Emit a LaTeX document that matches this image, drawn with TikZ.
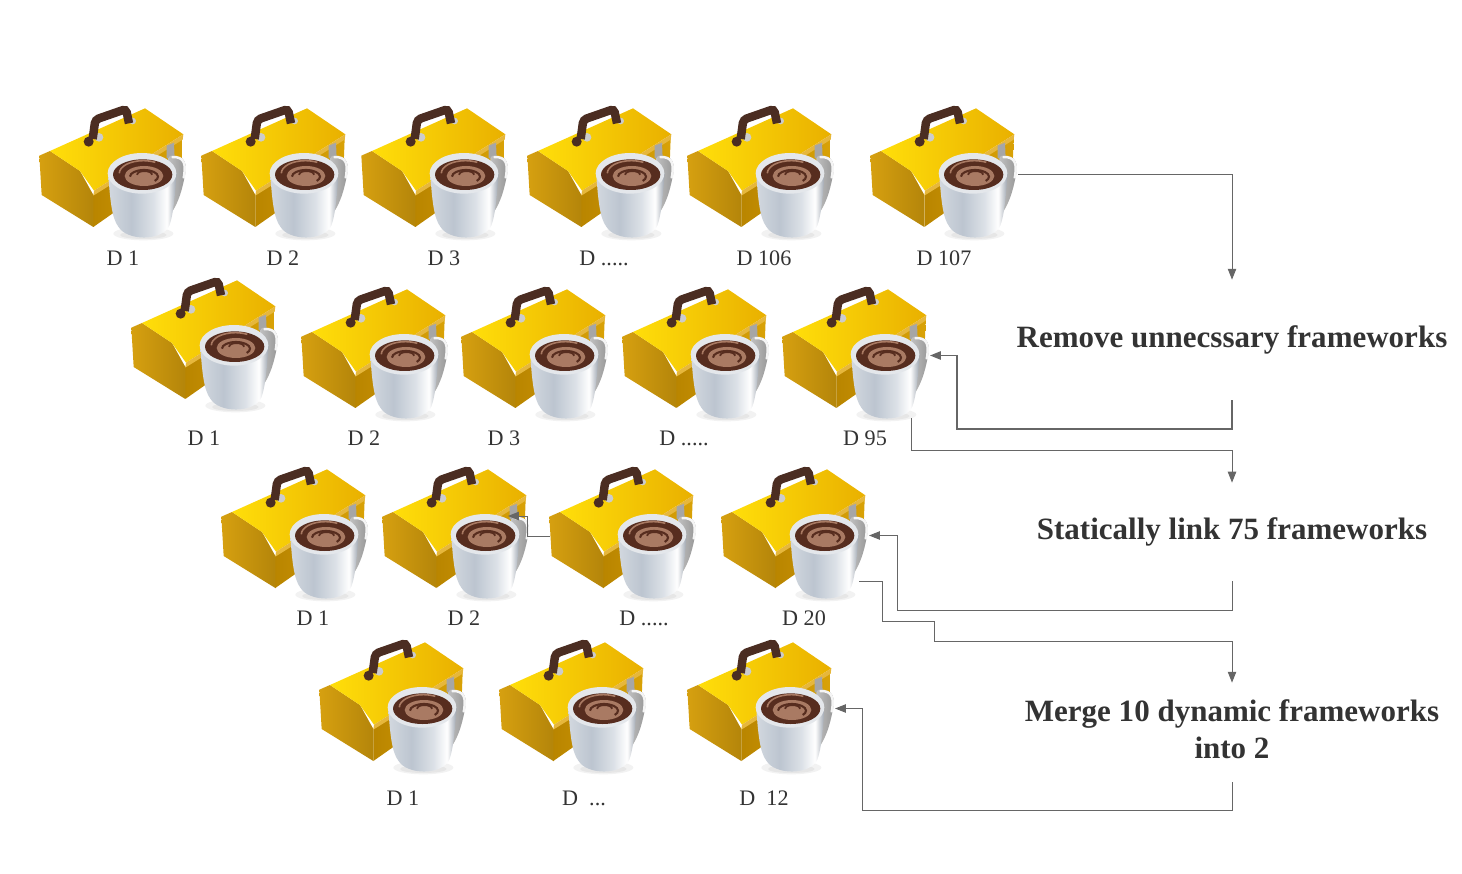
\documentclass[tikz,border=0pt]{standalone}
\usepackage{fontspec}
\setmainfont{Liberation Serif}
\usetikzlibrary{arrows.meta}
\definecolor{linegray}{HTML}{666666}
\definecolor{textgray}{HTML}{333333}
\definecolor{lidhi}{HTML}{FFDE0A}
\definecolor{lidlo}{HTML}{E9B000}
\definecolor{golda}{HTML}{D6A010}
\definecolor{goldb}{HTML}{B4850A}
\definecolor{goldc}{HTML}{B98500}
\definecolor{goldd}{HTML}{D9A206}
\definecolor{strip}{HTML}{E6B73C}
\definecolor{handlebrown}{HTML}{4B2D22}
\definecolor{coffee}{HTML}{572D1F}
\definecolor{crema}{HTML}{A97A63}
\definecolor{cupa}{HTML}{D3D8DF}
\definecolor{cupb}{HTML}{BCC5D0}
\definecolor{cupc}{HTML}{DCE1E7}
\definecolor{cupd}{HTML}{9AA2AD}
\definecolor{rim}{HTML}{E4E7EB}
\pgfdeclarehorizontalshading{cupbody}{100bp}{color(0bp)=(cupa); color(25bp)=(cupa); color(42bp)=(cupb); color(58bp)=(cupc); color(68bp)=(white); color(75bp)=(cupd); color(100bp)=(cupd)}
\newcommand{\fivedots}{D .....}
\newcommand{\threedots}{D~~...}
\tikzset{
	line/.style = {draw=linegray, line width=0.55pt},
	arrowline/.style = {line, -{Triangle[length=6.2pt,width=4.8pt]}},
	boxlabel/.style = {text=textgray, font=\fontsize{12.6}{14}\selectfont, inner sep=0pt},
	titlebox/.style = {text=textgray, font=\fontsize{17.65}{21}\selectfont\bfseries, align=center, inner sep=0pt},
	toolcup/.pic = {
		\begin{scope}[scale=1/3]
			% тень
			\fill [black, opacity=0.05] (340,416) ellipse [x radius=90, y radius=20];
			\fill [black, opacity=0.05] (340,420) ellipse [x radius=70, y radius=12];
			% ящик
			\shade [left color=goldc, right color=goldd] (190,300) -- (458,130) -- (455,210) -- (190,396) -- cycle;
			\shade [left color=golda, right color=goldb] (28,182) -- (60,168) -- (150,228) -- (190,300) -- (190,396) -- (35,300) -- cycle;
			\shade [left color=lidhi, right color=lidlo] (60,168) -- (345,40) -- (460,118) -- (192,287) -- (150,228) -- cycle;
			\fill [strip] (192,287) -- (460,118) -- (458,134) -- (190,302) -- cycle;
			\fill [gray!70] (410,152) -- (432,143) -- (434,190) -- (410,190) -- cycle;
			% ручка
			\fill [gray!40] (207,127) circle [radius=13];
			\fill [gray!40] (308,78) circle [radius=10];
			\draw [handlebrown, line width=4.8pt, rounded corners=2pt] (188,132) -- (196,74) -- (288,42) -- (297,85);
			\fill [handlebrown] (176,140) circle [radius=15];
			% кружка
			\shade [left color=gray!50, right color=gray!85] (420,183) .. controls (470,178) and (472,210) .. (463,250) .. controls (455,290) and (445,320) .. (428,348) -- (415,300) -- (415,190) -- cycle;
			\draw [white!92!gray, line width=1.4pt] (425,186) .. controls (466,184) and (468,210) .. (461,250);
			\shade [shading=cupbody] (235,240) .. controls (240,310) and (245,370) .. (265,395) .. controls (290,438) and (395,440) .. (418,392) .. controls (430,360) and (435,300) .. (440,235) -- cycle;
			\fill [rim] (336,235) ellipse [x radius=103, y radius=61];
			\fill [coffee] (338,239) ellipse [x radius=89, y radius=46];
			\fill [crema] (342,243) ellipse [x radius=58, y radius=30];
			\draw [crema, line width=0.9pt] (268,235) arc [start angle=180, end angle=300, x radius=72, y radius=38];
			\draw [coffee, line width=1.2pt] (300,245) arc [start angle=180, end angle=400, x radius=42, y radius=20];
			\draw [coffee, line width=1pt] (322,240) arc [start angle=170, end angle=370, x radius=22, y radius=10];
		\end{scope}
		\coordinate (-handle) at (157,79.5);
		\coordinate (-latch) at (135,60);
		\coordinate (-gable) at (10,80);
	}
}
\begin{document}
\begin{tikzpicture}[x=0.02cm, y=-0.02cm]
	\useasboundingbox (0,0) rectangle (1462,874);

	% ящики с кружками
	\foreach \boxname/\boxx/\boxy in {a1/30/95, a2/192/95, a3/352/95, a4/518/95, a5/678/95, a6/861/95,
		b1/122/267, b2/292/276, b3/452/276, b4/613/276, b5/773/276,
		c1/212/456, c2/373/456, c3/540/456, c4/712/456,
		d1/310/629, d2/490/629, d3/678/629}
		\pic (\boxname) at (\boxx,\boxy) {toolcup};

	% подписи
	\foreach \labelx/\labely/\labeltext [count=\i] in {123/258/D 1, 283/258/D 2, 444/258/D 3, 604/258/\fivedots, 764/258/D 106, 944/258/D 107,
		204/438/D 1, 364/438/D 2, 504/438/D 3, 684/438/\fivedots, 865/438/D 95,
		313/618/D 1, 464/618/D 2, 644/618/\fivedots, 804/618/D 20,
		403/798/D 1, 584/798/\threedots, 764/798/D~~12}
		\node [boxlabel] (label\i) at (\labelx,\labely) {\labeltext};

	% шаги
	\node [titlebox, minimum height=68.3pt] (remove) at (1232,340) {Remove unnecssary frameworks};
	\node [titlebox, minimum height=55.8pt] (static) at (1232,532) {Statically link 75 frameworks};
	\node [titlebox, minimum height=52.9pt] (merge) at (1232,729.5) {Merge 10 dynamic frameworks\\into 2};

	\coordinate (outb) at (911,418);
	\coordinate (outc) at (859,581);
	\coordinate (outd) at (1232,782);

	% соединения
	\draw [arrowline] (a6-handle) -| (remove.north);
	\draw [arrowline, line width=0.8pt] (remove.south) |- (957,429) |- (b5-handle);
	\draw [arrowline] (outb) |- (1232,450) -- (static.north);
	\draw [arrowline] (static.south) |- (897,610) |- (c4-handle);
	\draw [arrowline] (outc) -| (882,621) -| (934,641) -| (merge.north);
	\draw [arrowline] (outd) |- (862,810) |- (d3-handle);
	\draw [arrowline] (c3-gable) -| (527,516) -- (c2-latch);
\end{tikzpicture}
\end{document}
